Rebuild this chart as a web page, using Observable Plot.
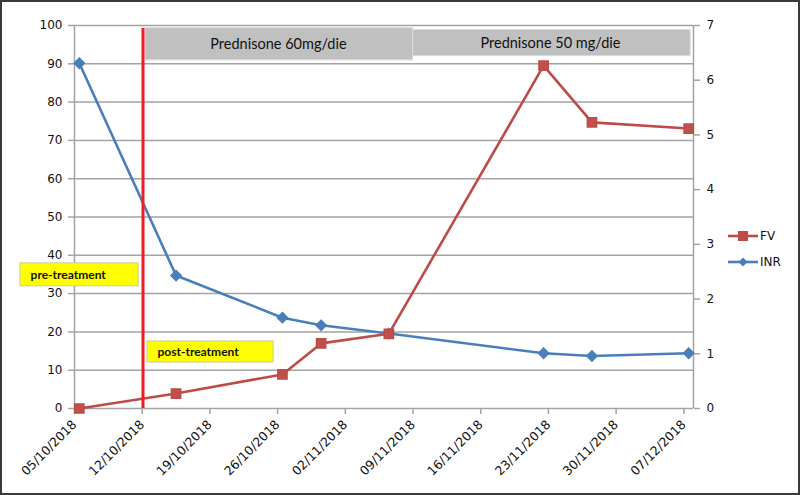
<!DOCTYPE html>
<html><head><meta charset="utf-8">
<script src="https://cdn.jsdelivr.net/npm/d3@7"></script>
<script src="https://cdn.jsdelivr.net/npm/@observablehq/plot@0.6"></script>
<style>
body{margin:0;background:#fff;}
#wrap{position:relative;width:800px;height:495px;overflow:hidden;background:#fff;}
#wrap svg.plot{position:absolute;left:0;top:0;}
#frame{position:absolute;left:0;top:0;width:800px;height:495px;box-sizing:border-box;border:2px solid #3a3a3a;pointer-events:none;}
#legend{position:absolute;left:724px;top:224px;}
</style></head>
<body><div id="wrap"><div id="frame"></div><svg id="legend" width="70" height="50"></svg></div>
<script>
// ---- data ----
const dates = ["2018-10-05","2018-10-15","2018-10-26","2018-10-30","2018-11-06","2018-11-22","2018-11-27","2018-12-07"];
const fv  = [0, 3.9, 8.9, 17.0, 19.5, 89.5, 74.7, 73.1];
const inr = [6.31, 2.43, 1.66, 1.52, 1.37, 1.01, 0.96, 1.01];
const xTicks = ["2018-10-05","2018-10-12","2018-10-19","2018-10-26","2018-11-02","2018-11-09","2018-11-16","2018-11-23","2018-11-30","2018-12-07"];
const leftTicks = [0,10,20,30,40,50,60,70,80,90,100];
const rightTicks = [0,1,2,3,4,5,6,7];
const seriesNames = ["FV","INR"];
// dose annotation spans
const doseLabels = ["Prednisone 60mg/die","Prednisone 50 mg/die"];
const doseStart = ["2018-10-12T08:00Z","2018-11-09T00:00Z"];
const doseEnd   = ["2018-11-09T00:00Z","2018-12-07T17:00Z"];
const doseLow   = [90.9, 92.0];
const doseHigh  = [99.3, 98.8];
const doseMid   = ["2018-10-26T02:00Z","2018-11-23T05:00Z"];
// phase annotations
const phaseLabels = ["pre-treatment","post-treatment"];
const phaseStart = ["2018-09-29T10:00Z","2018-10-12T13:00Z"];
const phaseEnd   = ["2018-10-11T15:00Z","2018-10-25T14:00Z"];
const phaseLow   = [31.9, 12.0];
const phaseHigh  = [37.9, 17.5];
const phaseTextX = ["2018-09-30T11:00Z","2018-10-13T14:00Z"];
const treatmentStart = "2018-10-12T02:00Z";

// ---- build ----
const P = d3.isoParse;
const HALF = 12*3600e3;
const leftMax = 100, rightMax = 7;
const rows = dates.map((d,i)=>({date:new Date(+P(d+"T00:00Z")+HALF), fv:fv[i], inr:inr[i]}));
const doses = doseLabels.map((l,i)=>({label:l, x1:P(doseStart[i]), x2:P(doseEnd[i]), y1:doseLow[i], y2:doseHigh[i], xm:P(doseMid[i])}));
const phases = phaseLabels.map((l,i)=>({label:l, x1:P(phaseStart[i]), x2:P(phaseEnd[i]), y1:phaseLow[i], y2:phaseHigh[i], xt:P(phaseTextX[i])}));
const xDomain = [P(dates[0]+"T00:00Z"), new Date(+P(dates[dates.length-1]+"T00:00Z")+2*HALF)];
const toLeft = v => v*leftMax/rightMax;

const FVC = "#be4b48", INRC = "#4a7ebb";
const gridC = "#a3a3a3";

const chart = Plot.plot({
  width: 800, height: 495,
  marginLeft: 74, marginRight: 107, marginTop: 25, marginBottom: 87,
  style: {fontFamily: "'DejaVu Sans', sans-serif", fontSize: "12px", color: "#111", background: "transparent"},
  x: {type: "utc", domain: xDomain},
  y: {domain: [0, leftMax]},
  marks: [
    Plot.ruleY(leftTicks, {stroke: gridC, strokeWidth: 1.5}),
    Plot.ruleX([xDomain[0], xDomain[1]], {stroke: gridC, strokeWidth: 1.5}),
    Plot.axisY(leftTicks, {anchor: "left", tickSize: 6, tickPadding: 6, stroke: gridC, strokeWidth: 1.5, label: null, fill: "#111", fontSize: 12}),
    Plot.axisY(rightTicks.map(toLeft), {anchor: "right", tickSize: 6, tickPadding: 7, stroke: gridC, strokeWidth: 1.5, label: null, fill: "#111", fontSize: 12,
      tickFormat: v => d3.format("d")(Math.round(v*rightMax/leftMax))}),
    Plot.axisX(xTicks.map(d=>P(d+"T00:00Z")), {anchor: "bottom", tickSize: 6, tickPadding: 8, tickRotate: -45, stroke: gridC, strokeWidth: 1.5, label: null, fill: "#111", fontSize: 12.5,
      tickFormat: d3.utcFormat("%d/%m/%Y")}),
    Plot.rect(doses, {x1: "x1", x2: "x2", y1: "y1", y2: "y2", fill: "#c0c0c0", stroke: "#dadada", strokeWidth: 1}),
    Plot.text(doses, {x: "xm", y: d => (d.y1+d.y2)/2, text: "label", fontFamily: "Lato, 'Open Sans', sans-serif", fontSize: 14.5, fill: "#111"}),
    Plot.rect(phases, {x1: "x1", x2: "x2", y1: "y1", y2: "y2", fill: "#ffff00", stroke: "#c9c9a0", strokeWidth: 1}),
    Plot.text(phases, {x: "xt", y: d => (d.y1+d.y2)/2, text: "label", textAnchor: "start", fontFamily: "Lato, 'Open Sans', sans-serif", fontWeight: "bold", fontSize: 12, fill: "#111"}),
    Plot.line(rows, {x: "date", y: d => toLeft(d.inr), stroke: INRC, strokeWidth: 2.6}),
    Plot.dot(rows, {x: "date", y: d => toLeft(d.inr), symbol: "diamond2", r: 4.6, fill: INRC, stroke: INRC}),
    Plot.line(rows, {x: "date", y: "fv", stroke: FVC, strokeWidth: 2.6}),
    Plot.dot(rows, {x: "date", y: "fv", symbol: "square", r: 5.2, fill: "#c0504d", stroke: FVC}),
    Plot.ruleX([P(treatmentStart)], {y1: 0, y2: 99.2, stroke: "#ee1c25", strokeWidth: 3})
  ]
});
chart.classList.add("plot");
document.getElementById("wrap").insertBefore(chart, document.getElementById("frame"));

// legend
const lg = d3.select("#legend");
const legendItems = seriesNames.map((n,i)=>({name:n, color: i===0?FVC:INRC, sym: i===0?"square":"diamond"}));
const g = lg.selectAll("g").data(legendItems).join("g").attr("transform",(d,i)=>`translate(0,${12+i*26})`);
g.append("line").attr("x1",4).attr("x2",34).attr("y1",0).attr("y2",0).attr("stroke",d=>d.color).attr("stroke-width",2.6);
g.append("path").attr("transform","translate(19,0)")
  .attr("d",d=>d.sym==="square" ? "M-5,-5H5V5H-5Z" : "M0,-4.5L4.5,0L0,4.5L-4.5,0Z")
  .attr("fill",d=>d.color);
g.append("text").attr("x",36).attr("y",0).attr("dy","0.36em")
  .style("font-family","'DejaVu Sans', sans-serif").style("font-size","12px").attr("fill","#111")
  .text(d=>d.name);
</script>
</body></html>
